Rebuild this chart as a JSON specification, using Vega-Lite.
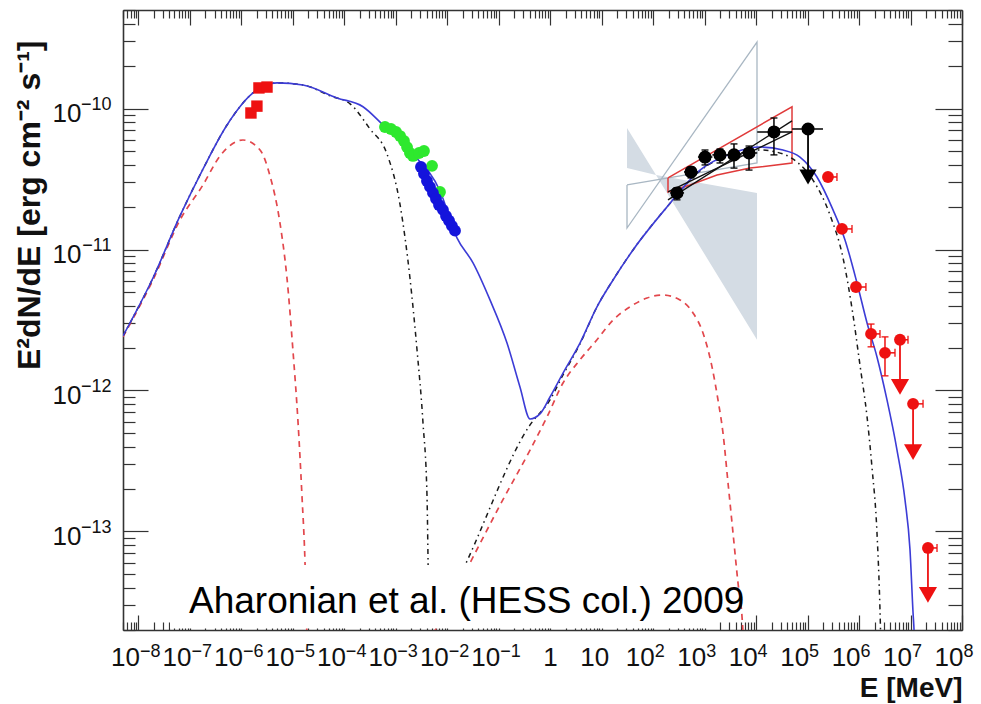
{
  "$schema": "https://vega.github.io/schema/vega-lite/v6.json",
  "width": 839,
  "height": 620,
  "autosize": {"type": "none"},
  "padding": {"left": 123, "top": 10, "right": 19, "bottom": 74},
  "background": "white",
  "config": {"view": {"stroke": null}, "font": "Liberation Sans", "axis": {"grid": false}},
  "datasets": {
    "model": [
      {"c": "t", "s": 1, "E": 5e-9, "F": 2.44e-12},
      {"c": "t", "s": 1, "E": 1.91e-8, "F": 6.28e-12},
      {"c": "t", "s": 1, "E": 6.4e-8, "F": 1.73e-11},
      {"c": "t", "s": 1, "E": 1.79e-7, "F": 3.72e-11},
      {"c": "t", "s": 1, "E": 5.25e-7, "F": 7.64e-11},
      {"c": "t", "s": 1, "E": 1.68e-6, "F": 1.29e-10},
      {"c": "t", "s": 1, "E": 4.91e-6, "F": 1.52e-10},
      {"c": "t", "s": 1, "E": 1.57e-5, "F": 1.47e-10},
      {"c": "t", "s": 1, "E": 7.19e-5, "F": 1.19e-10},
      {"c": "t", "s": 1, "E": 2.3e-4, "F": 1.03e-10},
      {"c": "t", "s": 1, "E": 5.64e-4, "F": 7.64e-11},
      {"c": "t", "s": 1, "E": 2.15e-3, "F": 4.76e-11},
      {"c": "t", "s": 1, "E": 7.21e-3, "F": 2.6e-11},
      {"c": "t", "s": 1, "E": 1.54e-2, "F": 1.21e-11},
      {"c": "t", "s": 1, "E": 3.16e-2, "F": 8.04e-12},
      {"c": "t", "s": 1, "E": 6.75e-2, "F": 4.39e-12},
      {"c": "t", "s": 1, "E": 0.1445, "F": 2.17e-12},
      {"c": "t", "s": 1, "E": 0.258, "F": 1.06e-12},
      {"c": "t", "s": 1, "E": 0.405, "F": 6.28e-13},
      {"c": "t", "s": 1, "E": 0.632, "F": 6.82e-13},
      {"c": "t", "s": 1, "E": 0.989, "F": 8.99e-13},
      {"c": "t", "s": 1, "E": 1.77, "F": 1.33e-12},
      {"c": "t", "s": 1, "E": 3.78, "F": 2.17e-12},
      {"c": "t", "s": 1, "E": 8.09, "F": 3.92e-12},
      {"c": "t", "s": 1, "E": 16.6, "F": 6.08e-12},
      {"c": "t", "s": 1, "E": 40.6, "F": 9.93e-12},
      {"c": "t", "s": 1, "E": 185, "F": 2.0e-11},
      {"c": "t", "s": 1, "E": 811, "F": 3.66e-11},
      {"c": "t", "s": 1, "E": 3556, "F": 4.84e-11},
      {"c": "t", "s": 1, "E": 11900, "F": 5.33e-11},
      {"c": "t", "s": 1, "E": 33300, "F": 5.08e-11},
      {"c": "t", "s": 1, "E": 71100, "F": 4.53e-11},
      {"c": "t", "s": 1, "E": 152000, "F": 3.27e-11},
      {"c": "t", "s": 1, "E": 312000, "F": 1.91e-11},
      {"c": "t", "s": 1, "E": 533000, "F": 1.17e-11},
      {"c": "t", "s": 1, "E": 912000, "F": 5.79e-12},
      {"c": "t", "s": 1, "E": 1430000, "F": 3.01e-12},
      {"c": "t", "s": 1, "E": 2230000, "F": 1.73e-12},
      {"c": "t", "s": 1, "E": 3490000, "F": 8.57e-13},
      {"c": "t", "s": 1, "E": 5460000, "F": 3.78e-13},
      {"c": "t", "s": 1, "E": 7820000, "F": 1.67e-13},
      {"c": "t", "s": 1, "E": 9770000, "F": 7.4e-14},
      {"c": "t", "s": 1, "E": 11200000, "F": 2.64e-14},
      {"c": "t", "s": 1, "E": 11700000, "F": 2.0e-14},
      {"c": "t", "s": 1, "E": 12100000, "F": 1.4e-14},

      {"c": "a", "s": 1, "E": 5e-9, "F": 2.44e-12},
      {"c": "a", "s": 1, "E": 1.91e-8, "F": 6.28e-12},
      {"c": "a", "s": 1, "E": 6.4e-8, "F": 1.73e-11},
      {"c": "a", "s": 1, "E": 1.79e-7, "F": 3.72e-11},
      {"c": "a", "s": 1, "E": 5.25e-7, "F": 7.64e-11},
      {"c": "a", "s": 1, "E": 1.68e-6, "F": 1.29e-10},
      {"c": "a", "s": 1, "E": 4.91e-6, "F": 1.52e-10},
      {"c": "a", "s": 1, "E": 1.57e-5, "F": 1.47e-10},
      {"c": "a", "s": 1, "E": 5.26e-5, "F": 1.23e-10},
      {"c": "a", "s": 1, "E": 1.29e-4, "F": 1.08e-10},
      {"c": "a", "s": 1, "E": 3.15e-4, "F": 7.16e-11},
      {"c": "a", "s": 1, "E": 6.73e-4, "F": 4.76e-11},
      {"c": "a", "s": 1, "E": 1.21e-3, "F": 2.07e-11},
      {"c": "a", "s": 1, "E": 1.88e-3, "F": 6.28e-12},
      {"c": "a", "s": 1, "E": 2.58e-3, "F": 1.94e-12},
      {"c": "a", "s": 1, "E": 3.37e-3, "F": 5.89e-13},
      {"c": "a", "s": 1, "E": 4.03e-3, "F": 1.79e-13},
      {"c": "a", "s": 1, "E": 4.22e-3, "F": 6.38e-14},
      {"c": "a", "s": 1, "E": 4.41e-3, "F": 1.7e-14},
      {"c": "a", "s": 2, "E": 3.85e-3, "F": 1.45e-14},
      {"c": "a", "s": 2, "E": 2.42e-2, "F": 6.18e-14},
      {"c": "a", "s": 2, "E": 0.405, "F": 5.7e-13},
      {"c": "a", "s": 2, "E": 0.989, "F": 8.57e-13},
      {"c": "a", "s": 2, "E": 1.77, "F": 1.29e-12},
      {"c": "a", "s": 2, "E": 3.78, "F": 2.14e-12},
      {"c": "a", "s": 2, "E": 8.09, "F": 3.92e-12},
      {"c": "a", "s": 2, "E": 16.6, "F": 6.08e-12},
      {"c": "a", "s": 2, "E": 40.6, "F": 9.93e-12},
      {"c": "a", "s": 2, "E": 185, "F": 2.0e-11},
      {"c": "a", "s": 2, "E": 811, "F": 3.61e-11},
      {"c": "a", "s": 2, "E": 3556, "F": 4.76e-11},
      {"c": "a", "s": 2, "E": 11900, "F": 5.08e-11},
      {"c": "a", "s": 2, "E": 33300, "F": 4.76e-11},
      {"c": "a", "s": 2, "E": 62200, "F": 4.18e-11},
      {"c": "a", "s": 2, "E": 127000, "F": 3.11e-11},
      {"c": "a", "s": 2, "E": 272000, "F": 1.76e-11},
      {"c": "a", "s": 2, "E": 488000, "F": 8.71e-12},
      {"c": "a", "s": 2, "E": 762000, "F": 3.44e-12},
      {"c": "a", "s": 2, "E": 1040000, "F": 1.52e-12},
      {"c": "a", "s": 2, "E": 1430000, "F": 6.49e-13},
      {"c": "a", "s": 2, "E": 1780000, "F": 2.87e-13},
      {"c": "a", "s": 2, "E": 2230000, "F": 9.77e-14},
      {"c": "a", "s": 2, "E": 2550000, "F": 2.78e-14},
      {"c": "a", "s": 2, "E": 2670000, "F": 1.45e-14},

      {"c": "b", "s": 1, "E": 5e-9, "F": 2.4e-12},
      {"c": "b", "s": 1, "E": 1.91e-8, "F": 6.08e-12},
      {"c": "b", "s": 1, "E": 6.4e-8, "F": 1.62e-11},
      {"c": "b", "s": 1, "E": 1.79e-7, "F": 2.87e-11},
      {"c": "b", "s": 1, "E": 3.84e-7, "F": 4.61e-11},
      {"c": "b", "s": 1, "E": 1.07e-6, "F": 5.98e-11},
      {"c": "b", "s": 1, "E": 2.3e-6, "F": 5.08e-11},
      {"c": "b", "s": 1, "E": 3.59e-6, "F": 3.33e-11},
      {"c": "b", "s": 1, "E": 5.61e-6, "F": 1.54e-11},
      {"c": "b", "s": 1, "E": 7.67e-6, "F": 6.28e-12},
      {"c": "b", "s": 1, "E": 1.0e-5, "F": 1.94e-12},
      {"c": "b", "s": 1, "E": 1.26e-5, "F": 5.89e-13},
      {"c": "b", "s": 1, "E": 1.5e-5, "F": 1.79e-13},
      {"c": "b", "s": 1, "E": 1.72e-5, "F": 5.98e-14},
      {"c": "b", "s": 1, "E": 1.88e-5, "F": 1.7e-14},
      {"c": "b", "s": 2, "E": 3.69e-3, "F": 1.45e-14},
      {"c": "b", "s": 2, "E": 2.76e-2, "F": 5.98e-14},
      {"c": "b", "s": 2, "E": 0.106, "F": 1.54e-13},
      {"c": "b", "s": 2, "E": 0.405, "F": 3.78e-13},
      {"c": "b", "s": 2, "E": 0.865, "F": 6.49e-13},
      {"c": "b", "s": 2, "E": 1.77, "F": 1.13e-12},
      {"c": "b", "s": 2, "E": 3.78, "F": 1.65e-12},
      {"c": "b", "s": 2, "E": 8.09, "F": 2.29e-12},
      {"c": "b", "s": 2, "E": 16.6, "F": 3.16e-12},
      {"c": "b", "s": 2, "E": 35.5, "F": 3.92e-12},
      {"c": "b", "s": 2, "E": 75.9, "F": 4.53e-12},
      {"c": "b", "s": 2, "E": 155, "F": 4.76e-12},
      {"c": "b", "s": 2, "E": 332, "F": 4.39e-12},
      {"c": "b", "s": 2, "E": 594, "F": 3.55e-12},
      {"c": "b", "s": 2, "E": 929, "F": 2.56e-12},
      {"c": "b", "s": 2, "E": 1390, "F": 1.47e-12},
      {"c": "b", "s": 2, "E": 1816, "F": 8.57e-13},
      {"c": "b", "s": 2, "E": 2270, "F": 5.0e-13},
      {"c": "b", "s": 2, "E": 2844, "F": 2.21e-13},
      {"c": "b", "s": 2, "E": 3556, "F": 9.77e-14},
      {"c": "b", "s": 2, "E": 4446, "F": 4.32e-14},
      {"c": "b", "s": 2, "E": 5321, "F": 2.48e-14},
      {"c": "b", "s": 2, "E": 5808, "F": 1.45e-14}
    ],
    "band": [
      {"E": 31.0, "lo": 3.78e-11, "hi": 7.28e-11},
      {"E": 113.5, "lo": 3.38e-11, "hi": 3.38e-11},
      {"E": 10400, "lo": 2.29e-12, "hi": 2.52e-11}
    ],
    "outline": [
      {"o": 1, "E": 31.0, "F": 2.87e-11},
      {"o": 2, "E": 10400, "F": 4.11e-11},
      {"o": 3, "E": 10400, "F": 2.96e-10},
      {"o": 4, "E": 31.0, "F": 1.42e-11},
      {"o": 5, "E": 31.0, "F": 2.87e-11}
    ],
    "redbow": [
      {"o": 1, "E": 194, "F": 3.22e-11},
      {"o": 2, "E": 49800, "F": 1.03e-10},
      {"o": 3, "E": 49800, "F": 4.11e-11},
      {"o": 4, "E": 7603, "F": 3.78e-11},
      {"o": 5, "E": 1738, "F": 3.38e-11},
      {"o": 6, "E": 519, "F": 2.87e-11},
      {"o": 7, "E": 194, "F": 2.56e-11},
      {"o": 8, "E": 194, "F": 3.22e-11}
    ],
    "fit": [
      {"id": 1, "E": 194, "F": 2.25e-11},
      {"id": 1, "E": 49800, "F": 8.17e-11},
      {"id": 2, "E": 194, "F": 2.56e-11},
      {"id": 2, "E": 49800, "F": 6.82e-11}
    ],
    "optical": [
      {"E": 1.53e-6, "F": 9.3e-11},
      {"E": 2.0e-6, "F": 1.04e-10},
      {"E": 2.19e-6, "F": 1.40e-10},
      {"E": 3.14e-6, "F": 1.42e-10}
    ],
    "xsoft": [
      {"E": 6.15e-4, "F": 7.40e-11},
      {"E": 8.05e-4, "F": 7.16e-11},
      {"E": 1.01e-3, "F": 6.82e-11},
      {"E": 1.21e-3, "F": 6.38e-11},
      {"E": 1.44e-3, "F": 5.89e-11},
      {"E": 1.65e-3, "F": 5.33e-11},
      {"E": 1.88e-3, "F": 4.84e-11},
      {"E": 2.15e-3, "F": 4.61e-11},
      {"E": 2.82e-3, "F": 4.84e-11},
      {"E": 3.52e-3, "F": 5.0e-11},
      {"E": 5.05e-3, "F": 3.92e-11},
      {"E": 7.21e-3, "F": 2.56e-11}
    ],
    "xhard": [
      {"E": 3.08e-3, "F": 3.85e-11},
      {"E": 3.52e-3, "F": 3.44e-11},
      {"E": 4.03e-3, "F": 3.06e-11},
      {"E": 4.61e-3, "F": 2.78e-11},
      {"E": 5.27e-3, "F": 2.52e-11},
      {"E": 6.03e-3, "F": 2.29e-11},
      {"E": 6.90e-3, "F": 2.07e-11},
      {"E": 8.24e-3, "F": 1.91e-11},
      {"E": 9.44e-3, "F": 1.73e-11},
      {"E": 1.08e-2, "F": 1.60e-11},
      {"E": 1.23e-2, "F": 1.47e-11},
      {"E": 1.41e-2, "F": 1.36e-11}
    ],
    "lat": [
      {"E": 290, "F": 2.52e-11, "lo": 2.25e-11, "hi": 2.74e-11, "xlo": 214, "xhi": 398},
      {"E": 543, "F": 3.55e-11, "lo": 3.22e-11, "hi": 3.85e-11, "xlo": 398, "xhi": 741},
      {"E": 1016, "F": 4.53e-11, "lo": 3.98e-11, "hi": 5.08e-11, "xlo": 741, "xhi": 1413},
      {"E": 1986, "F": 4.69e-11, "lo": 4.11e-11, "hi": 5.16e-11, "xlo": 1413, "xhi": 2692},
      {"E": 3715, "F": 4.69e-11, "lo": 3.78e-11, "hi": 5.61e-11, "xlo": 2692, "xhi": 5248},
      {"E": 7278, "F": 4.84e-11, "lo": 3.66e-11, "hi": 5.42e-11, "xlo": 5248, "xhi": 10500},
      {"E": 22200, "F": 6.82e-11, "lo": 4.69e-11, "hi": 8.57e-11, "xlo": 10500, "xhi": 50100},
      {"E": 102000, "F": 7.16e-11, "xlo": 50100, "xhi": 199000, "ul": 3.27e-11}
    ],
    "hess": [
      {"E": 249000, "F": 3.27e-11, "xhi": 372000},
      {"E": 466000, "F": 1.40e-11, "xhi": 729000},
      {"E": 871000, "F": 5.42e-12, "xhi": 1360000},
      {"E": 1710000, "F": 2.52e-12, "xhi": 2550000, "lo": 2.04e-12, "hi": 2.96e-12},
      {"E": 3190000, "F": 1.85e-12, "xhi": 4990000, "lo": 1.27e-12, "hi": 2.40e-12},
      {"E": 6240000, "F": 2.29e-12, "xhi": 8930000, "ul": 1.06e-12},
      {"E": 11200000, "F": 8.04e-13, "xhi": 17500000, "ul": 3.66e-13},
      {"E": 21800000, "F": 7.64e-14, "xhi": 32700000, "ul": 3.55e-14}
    ],
    "cover": [
      {"E": 4.09e-8, "E2": 1161, "F": 5.79e-14, "F2": 2.05e-14}
    ],
    "credit": [
      {"E": 9.57e-8, "F": 2.64e-14, "label": "Aharonian et al. (HESS col.) 2009"}
    ]
  },
  "encoding": {
    "x": {"field": "E", "type": "quantitative", "scale": {"type": "log", "domain": [5e-9, 1e8], "nice": false}, "axis": null},
    "y": {"field": "F", "type": "quantitative", "scale": {"type": "log", "domain": [2e-14, 5e-10], "nice": false}, "axis": null}
  },
  "resolve": {"axis": {"x": "independent", "y": "independent"}},
  "layer": [
    {
      "data": {"name": "band"},
      "mark": {"type": "area", "color": "#d4dce4", "opacity": 1},
      "encoding": {
        "y": {"field": "lo", "type": "quantitative", "scale": {"type": "log", "domain": [2e-14, 5e-10], "nice": false}, "axis": null},
        "y2": {"field": "hi"}
      }
    },
    {
      "data": {"name": "outline"},
      "mark": {"type": "line", "color": "#a9b7c3", "strokeWidth": 1.3},
      "encoding": {"order": {"field": "o", "type": "quantitative"}}
    },
    {
      "data": {"name": "redbow"},
      "mark": {"type": "line", "color": "#e03a3a", "strokeWidth": 1.5},
      "encoding": {"order": {"field": "o", "type": "quantitative"}}
    },
    {
      "data": {"name": "model"},
      "transform": [{"filter": "datum.c == 'b'"}],
      "mark": {"type": "line", "color": "#e2474c", "strokeWidth": 1.7, "strokeDash": [6, 5], "clip": true, "interpolate": "monotone"},
      "encoding": {"detail": {"field": "s", "type": "nominal"}}
    },
    {
      "data": {"name": "model"},
      "transform": [{"filter": "datum.c == 'a'"}],
      "mark": {"type": "line", "color": "#1a1a1a", "strokeWidth": 1.5, "strokeDash": [5, 4, 1.5, 4], "clip": true, "interpolate": "monotone"},
      "encoding": {"detail": {"field": "s", "type": "nominal"}}
    },
    {
      "data": {"name": "model"},
      "transform": [{"filter": "datum.c == 't'"}],
      "mark": {"type": "line", "color": "#3c3cd6", "strokeWidth": 1.6, "clip": true, "interpolate": "monotone"},
      "encoding": {"detail": {"field": "s", "type": "nominal"}}
    },
    {
      "data": {"name": "fit"},
      "mark": {"type": "line", "color": "#111111", "strokeWidth": 1.4},
      "encoding": {"detail": {"field": "id", "type": "nominal"}}
    },
    {
      "data": {"name": "optical"},
      "mark": {"type": "point", "shape": "square", "filled": true, "size": 130, "color": "#ee1111", "opacity": 1},
      "encoding": {
        "x": {
          "field": "E", "type": "quantitative",
          "scale": {"type": "log", "domain": [5e-9, 1e8], "nice": false},
          "axis": {
            "orient": "bottom",
            "values": [1e-8, 1e-7, 1e-6, 1e-5, 1e-4, 0.001, 0.01, 0.1, 1, 10, 100, 1000, 10000, 100000, 1000000, 10000000, 100000000],
            "labelExpr": "datum.value == 1 ? '1' : '10'",
            "ticks": false, "tickSize": 0, "domain": false, "grid": false,
            "labelFont": "Liberation Sans", "labelFontSize": 26, "labelColor": "#111111",
            "labelAlign": "right",
            "labelOffset": {"condition": {"test": "datum.value == 1 || datum.value == 10", "value": 7}, "value": 1},
            "labelPadding": 14, "labelOverlap": false, "labelFlush": false, "labelBound": false,
            "title": "E [MeV]", "titleFont": "Liberation Sans", "titleFontSize": 28, "titleFontWeight": "bold",
            "titleColor": "#111111", "titleAnchor": "end", "titleAlign": "right", "titlePadding": 4
          }
        },
        "y": {
          "field": "F", "type": "quantitative",
          "scale": {"type": "log", "domain": [2e-14, 5e-10], "nice": false},
          "axis": {
            "orient": "left",
            "values": [1e-13, 1e-12, 1e-11, 1e-10],
            "labelExpr": "'10'",
            "ticks": false, "tickSize": 0, "domain": false, "grid": false,
            "labelFont": "Liberation Sans", "labelFontSize": 26, "labelColor": "#111111",
            "labelPadding": 42, "labelOverlap": false, "labelFlush": false, "labelBound": false, "labelOffset": 5,
            "title": "E²dN/dE [erg cm⁻² s⁻¹]", "titleFont": "Liberation Sans", "titleFontSize": 32, "titleFontWeight": "bold",
            "titleColor": "#111111", "titleAnchor": "end", "titleAlign": "right", "titleY": 30, "titlePadding": 6
          }
        }
      }
    },
    {
      "data": {"name": "xsoft"},
      "mark": {"type": "point", "shape": "circle", "filled": true, "size": 140, "color": "#2ee82e", "opacity": 1},
      "encoding": {
        "x": {
          "field": "E", "type": "quantitative",
          "scale": {"type": "log", "domain": [5e-9, 1e8], "nice": false},
          "axis": {
            "orient": "bottom",
            "values": [5e-9, 6e-9, 7e-9, 8e-9, 9e-9, 1e-8, 2e-8, 3e-8, 4e-8, 5e-8, 6e-8, 7e-8, 8e-8, 9e-8, 1e-7, 2e-7, 3e-7, 4e-7, 5e-7, 6e-7, 7e-7, 8e-7, 9e-7, 1e-6, 2e-6, 3e-6, 4e-6, 5e-6, 6e-6, 7e-6, 8e-6, 9e-6, 1e-5, 2e-5, 3e-5, 4e-5, 5e-5, 6e-5, 7e-5, 8e-5, 9e-5, 1e-4, 2e-4, 3e-4, 4e-4, 5e-4, 6e-4, 7e-4, 8e-4, 9e-4, 0.001, 0.002, 0.003, 0.004, 0.005, 0.006, 0.007, 0.008, 0.009, 0.01, 0.02, 0.03, 0.04, 0.05, 0.06, 0.07, 0.08, 0.09, 0.1, 0.2, 0.3, 0.4, 0.5, 0.6, 0.7, 0.8, 0.9, 1, 2, 3, 4, 5, 6, 7, 8, 9, 10, 20, 30, 40, 50, 60, 70, 80, 90, 100, 200, 300, 400, 500, 600, 700, 800, 900, 1000, 2000, 3000, 4000, 5000, 6000, 7000, 8000, 9000, 10000, 20000, 30000, 40000, 50000, 60000, 70000, 80000, 90000, 100000, 200000, 300000, 400000, 500000, 600000, 700000, 800000, 900000, 1000000, 2000000, 3000000, 4000000, 5000000, 6000000, 7000000, 8000000, 9000000, 10000000, 20000000, 30000000, 40000000, 50000000, 60000000, 70000000, 80000000, 90000000, 100000000],
            "labels": false, "title": null, "grid": false,
            "domain": true, "domainColor": "#333333", "domainWidth": 1.6,
            "ticks": true, "tickColor": "#333333", "tickWidth": 1.2,
            "tickSize": {"condition": {"test": "abs(log(datum.value)/LN10 - round(log(datum.value)/LN10)) < 0.001", "value": -15}, "value": -8}
          }
        },
        "y": {
          "field": "F", "type": "quantitative",
          "scale": {"type": "log", "domain": [2e-14, 5e-10], "nice": false},
          "axis": {
            "orient": "left",
            "values": [2e-14, 3e-14, 4e-14, 5e-14, 6e-14, 7e-14, 8e-14, 9e-14, 1e-13, 2e-13, 3e-13, 4e-13, 5e-13, 6e-13, 7e-13, 8e-13, 9e-13, 1e-12, 2e-12, 3e-12, 4e-12, 5e-12, 6e-12, 7e-12, 8e-12, 9e-12, 1e-11, 2e-11, 3e-11, 4e-11, 5e-11, 6e-11, 7e-11, 8e-11, 9e-11, 1e-10, 2e-10, 3e-10, 4e-10, 5e-10],
            "labels": false, "title": null, "grid": false,
            "domain": true, "domainColor": "#333333", "domainWidth": 1.6,
            "ticks": true, "tickColor": "#333333", "tickWidth": 1.2,
            "tickSize": {"condition": {"test": "abs(log(datum.value)/LN10 - round(log(datum.value)/LN10)) < 0.001", "value": -25}, "value": -12}
          }
        }
      }
    },
    {
      "data": {"name": "xhard"},
      "mark": {"type": "point", "shape": "circle", "filled": true, "size": 140, "color": "#1414dc", "opacity": 1},
      "encoding": {
        "x": {
          "field": "E", "type": "quantitative",
          "scale": {"type": "log", "domain": [5e-9, 1e8], "nice": false},
          "axis": {
            "orient": "top",
            "values": [5e-9, 6e-9, 7e-9, 8e-9, 9e-9, 1e-8, 2e-8, 3e-8, 4e-8, 5e-8, 6e-8, 7e-8, 8e-8, 9e-8, 1e-7, 2e-7, 3e-7, 4e-7, 5e-7, 6e-7, 7e-7, 8e-7, 9e-7, 1e-6, 2e-6, 3e-6, 4e-6, 5e-6, 6e-6, 7e-6, 8e-6, 9e-6, 1e-5, 2e-5, 3e-5, 4e-5, 5e-5, 6e-5, 7e-5, 8e-5, 9e-5, 1e-4, 2e-4, 3e-4, 4e-4, 5e-4, 6e-4, 7e-4, 8e-4, 9e-4, 0.001, 0.002, 0.003, 0.004, 0.005, 0.006, 0.007, 0.008, 0.009, 0.01, 0.02, 0.03, 0.04, 0.05, 0.06, 0.07, 0.08, 0.09, 0.1, 0.2, 0.3, 0.4, 0.5, 0.6, 0.7, 0.8, 0.9, 1, 2, 3, 4, 5, 6, 7, 8, 9, 10, 20, 30, 40, 50, 60, 70, 80, 90, 100, 200, 300, 400, 500, 600, 700, 800, 900, 1000, 2000, 3000, 4000, 5000, 6000, 7000, 8000, 9000, 10000, 20000, 30000, 40000, 50000, 60000, 70000, 80000, 90000, 100000, 200000, 300000, 400000, 500000, 600000, 700000, 800000, 900000, 1000000, 2000000, 3000000, 4000000, 5000000, 6000000, 7000000, 8000000, 9000000, 10000000, 20000000, 30000000, 40000000, 50000000, 60000000, 70000000, 80000000, 90000000, 100000000],
            "labels": false, "title": null, "grid": false,
            "domain": true, "domainColor": "#333333", "domainWidth": 1.6,
            "ticks": true, "tickColor": "#333333", "tickWidth": 1.2,
            "tickSize": {"condition": {"test": "abs(log(datum.value)/LN10 - round(log(datum.value)/LN10)) < 0.001", "value": -15}, "value": -8}
          }
        },
        "y": {
          "field": "F", "type": "quantitative",
          "scale": {"type": "log", "domain": [2e-14, 5e-10], "nice": false},
          "axis": {
            "orient": "right",
            "values": [2e-14, 3e-14, 4e-14, 5e-14, 6e-14, 7e-14, 8e-14, 9e-14, 1e-13, 2e-13, 3e-13, 4e-13, 5e-13, 6e-13, 7e-13, 8e-13, 9e-13, 1e-12, 2e-12, 3e-12, 4e-12, 5e-12, 6e-12, 7e-12, 8e-12, 9e-12, 1e-11, 2e-11, 3e-11, 4e-11, 5e-11, 6e-11, 7e-11, 8e-11, 9e-11, 1e-10, 2e-10, 3e-10, 4e-10, 5e-10],
            "labels": false, "title": null, "grid": false,
            "domain": true, "domainColor": "#333333", "domainWidth": 1.6,
            "ticks": true, "tickColor": "#333333", "tickWidth": 1.2,
            "tickSize": {"condition": {"test": "abs(log(datum.value)/LN10 - round(log(datum.value)/LN10)) < 0.001", "value": -27}, "value": -14}
          }
        }
      }
    },
    {
      "data": {"name": "lat"},
      "mark": {"type": "rule", "color": "#000000", "strokeWidth": 1.5},
      "encoding": {
        "x": {"field": "xlo", "type": "quantitative", "scale": {"type": "log", "domain": [5e-9, 1e8], "nice": false}, "axis": null},
        "x2": {"field": "xhi"}
      }
    },
    {
      "data": {"name": "lat"},
      "transform": [{"filter": "isValid(datum.lo)"}],
      "mark": {"type": "rule", "color": "#000000", "strokeWidth": 1.5},
      "encoding": {
        "y": {"field": "lo", "type": "quantitative", "scale": {"type": "log", "domain": [2e-14, 5e-10], "nice": false}, "axis": null},
        "y2": {"field": "hi"}
      }
    },
    {
      "data": {"name": "lat"},
      "transform": [{"filter": "isValid(datum.lo)"}],
      "mark": {"type": "tick", "orient": "horizontal", "size": 7, "thickness": 1.3, "color": "#000000", "opacity": 1},
      "encoding": {
        "y": {"field": "lo", "type": "quantitative", "scale": {"type": "log", "domain": [2e-14, 5e-10], "nice": false}, "axis": null}
      }
    },
    {
      "data": {"name": "lat"},
      "transform": [{"filter": "isValid(datum.hi)"}],
      "mark": {"type": "tick", "orient": "horizontal", "size": 7, "thickness": 1.3, "color": "#000000", "opacity": 1},
      "encoding": {
        "y": {"field": "hi", "type": "quantitative", "scale": {"type": "log", "domain": [2e-14, 5e-10], "nice": false}, "axis": null}
      }
    },
    {
      "data": {"name": "lat"},
      "transform": [{"filter": "isValid(datum.ul)"}],
      "mark": {"type": "rule", "color": "#000000", "strokeWidth": 1.8},
      "encoding": {"y2": {"field": "ul"}}
    },
    {
      "data": {"name": "lat"},
      "transform": [{"filter": "isValid(datum.ul)"}],
      "mark": {"type": "point", "shape": "triangle-down", "filled": true, "size": 300, "color": "#000000", "opacity": 1},
      "encoding": {
        "y": {"field": "ul", "type": "quantitative", "scale": {"type": "log", "domain": [2e-14, 5e-10], "nice": false}, "axis": null}
      }
    },
    {
      "data": {"name": "lat"},
      "mark": {"type": "point", "shape": "circle", "filled": true, "size": 170, "color": "#000000", "opacity": 1},
      "encoding": {
        "x": {
          "field": "E", "type": "quantitative",
          "scale": {"type": "log", "domain": [5e-9, 1e8], "nice": false},
          "axis": {
            "orient": "bottom",
            "values": [1e-8, 1e-7, 1e-6, 1e-5, 1e-4, 0.001, 0.01, 0.1, 100, 1000, 10000, 100000, 1000000, 10000000, 100000000],
            "labelExpr": "round(log(datum.value)/LN10) < 0 ? '−' + (-round(log(datum.value)/LN10)) : '' + round(log(datum.value)/LN10)",
            "ticks": false, "tickSize": 0, "domain": false, "grid": false,
            "labelFont": "Liberation Sans", "labelFontSize": 18, "labelColor": "#111111",
            "labelAlign": "left", "labelOffset": 1,
            "labelPadding": 12, "labelOverlap": false, "labelFlush": false, "labelBound": false,
            "title": null
          }
        },
        "y": {
          "field": "F", "type": "quantitative",
          "scale": {"type": "log", "domain": [2e-14, 5e-10], "nice": false},
          "axis": {
            "orient": "left",
            "values": [1e-13, 1e-12, 1e-11, 1e-10],
            "labelExpr": "'−' + (-round(log(datum.value)/LN10))",
            "ticks": false, "tickSize": 0, "domain": false, "grid": false,
            "labelFont": "Liberation Sans", "labelFontSize": 18, "labelColor": "#111111",
            "labelPadding": 12, "labelOverlap": false, "labelFlush": false, "labelBound": false, "labelOffset": -4,
            "title": null
          }
        }
      }
    },
    {
      "data": {"name": "hess"},
      "mark": {"type": "rule", "color": "#ee1111", "strokeWidth": 1.5},
      "encoding": {"x2": {"field": "xhi"}}
    },
    {
      "data": {"name": "hess"},
      "mark": {"type": "tick", "orient": "vertical", "size": 8, "thickness": 1.3, "color": "#ee1111", "opacity": 1},
      "encoding": {
        "x": {"field": "xhi", "type": "quantitative", "scale": {"type": "log", "domain": [5e-9, 1e8], "nice": false}, "axis": null}
      }
    },
    {
      "data": {"name": "hess"},
      "transform": [{"filter": "isValid(datum.lo)"}],
      "mark": {"type": "rule", "color": "#ee1111", "strokeWidth": 1.5},
      "encoding": {
        "y": {"field": "lo", "type": "quantitative", "scale": {"type": "log", "domain": [2e-14, 5e-10], "nice": false}, "axis": null},
        "y2": {"field": "hi"}
      }
    },
    {
      "data": {"name": "hess"},
      "transform": [{"filter": "isValid(datum.lo)"}],
      "mark": {"type": "tick", "orient": "horizontal", "size": 7, "thickness": 1.3, "color": "#ee1111", "opacity": 1},
      "encoding": {
        "y": {"field": "lo", "type": "quantitative", "scale": {"type": "log", "domain": [2e-14, 5e-10], "nice": false}, "axis": null}
      }
    },
    {
      "data": {"name": "hess"},
      "transform": [{"filter": "isValid(datum.hi)"}],
      "mark": {"type": "tick", "orient": "horizontal", "size": 7, "thickness": 1.3, "color": "#ee1111", "opacity": 1},
      "encoding": {
        "y": {"field": "hi", "type": "quantitative", "scale": {"type": "log", "domain": [2e-14, 5e-10], "nice": false}, "axis": null}
      }
    },
    {
      "data": {"name": "hess"},
      "transform": [{"filter": "isValid(datum.ul)"}],
      "mark": {"type": "rule", "color": "#ee1111", "strokeWidth": 1.8},
      "encoding": {"y2": {"field": "ul"}}
    },
    {
      "data": {"name": "hess"},
      "transform": [{"filter": "isValid(datum.ul)"}],
      "mark": {"type": "point", "shape": "triangle-down", "filled": true, "size": 330, "color": "#ee1111", "opacity": 1},
      "encoding": {
        "y": {"field": "ul", "type": "quantitative", "scale": {"type": "log", "domain": [2e-14, 5e-10], "nice": false}, "axis": null}
      }
    },
    {
      "data": {"name": "hess"},
      "mark": {"type": "point", "shape": "circle", "filled": true, "size": 140, "color": "#ee1111", "opacity": 1}
    },
    {
      "data": {"name": "cover"},
      "mark": {"type": "rect", "color": "#ffffff", "opacity": 1},
      "encoding": {"x2": {"field": "E2"}, "y2": {"field": "F2"}}
    },
    {
      "data": {"name": "credit"},
      "mark": {"type": "text", "align": "left", "baseline": "alphabetic", "font": "Liberation Sans", "fontSize": 37, "color": "#000000"},
      "encoding": {"text": {"field": "label", "type": "nominal"}}
    }
  ]
}
